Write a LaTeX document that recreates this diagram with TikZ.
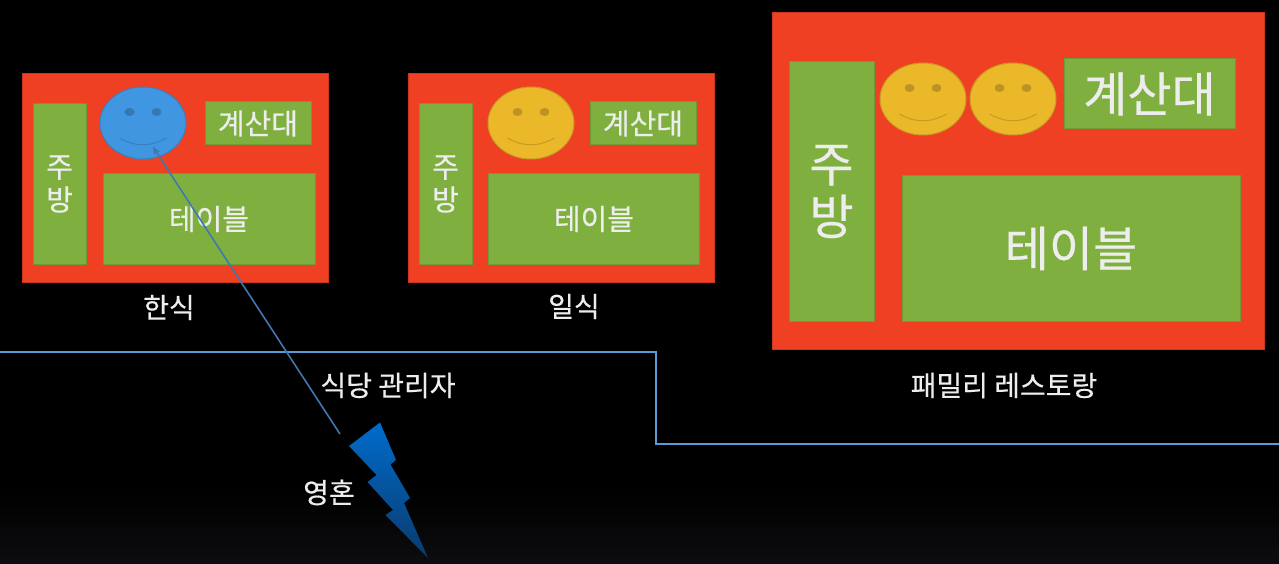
\documentclass[tikz,border=0pt]{standalone}
\usepackage{fontspec}
\setmainfont[RawFeature={embolden=0.5}]{Noto Sans CJK KR}
\usepackage{tikz}
\usetikzlibrary{positioning,arrows.meta,shapes.geometric,calc}

\definecolor{shopred}{HTML}{F04023}
\definecolor{roomgreen}{HTML}{7FB03F}
\definecolor{edgegreen}{HTML}{6E9A3A}
\definecolor{faceblue}{HTML}{4096E0}
\definecolor{edgeblue}{HTML}{3A7FBE}
\definecolor{eyeblue}{HTML}{3478B4}
\definecolor{faceyellow}{HTML}{EAB828}
\definecolor{edgeyellow}{HTML}{C99A22}
\definecolor{eyeyellow}{HTML}{BD9424}
\definecolor{wireblue}{HTML}{5B9BD5}
\definecolor{arrowblue}{HTML}{3F78AE}
\definecolor{boltblue}{HTML}{006CCB}
\definecolor{boltdark}{HTML}{0A3A6E}
\definecolor{floorgrey}{HTML}{0D0D10}

\newcommand{\sized}[1]{\fontsize{#1}{1.2\dimexpr #1pt\relax}\selectfont}
% one smiling face: name, centre, fill, outline, eye colour
\newcommand{\smiley}[6]{%
  \node[faceshape, fill=#4, draw=#5] (#1) at (#2,#3) {};
  \fill[#6] ($(#1)+(-13.5,-11)$) ellipse (5 and 4);
  \fill[#6] ($(#1)+(13.5,-11)$) ellipse (5 and 4);
  \draw[#5, line width=1pt] ($(#1)+(-23.5,15)$) .. controls ($(#1)+(-8,24)$) and ($(#1)+(8,24)$) .. ($(#1)+(23.5,15)$);
}

\tikzset{
  shopbox/.style={fill=shopred, draw=shopred!85!black, line width=.8pt, inner sep=0pt},
  roombox/.style={fill=roomgreen, draw=edgegreen, line width=1pt, inner sep=0pt, text=white!93!black, align=center},
  faceshape/.style={ellipse, minimum width=86pt, minimum height=72pt, line width=1pt, inner sep=0pt},
  caption/.style={text=white!93!black, inner sep=0pt, font=\sized{28}},
  wire/.style={wireblue, line width=1.8pt},
}

\begin{document}
\begin{tikzpicture}[x=1pt, y=-1pt]
  \useasboundingbox (0,0) rectangle (1279,564);
  \fill[black] (0,0) rectangle (1279,490);
  \shade[top color=black, bottom color=floorgrey] (0,490) rectangle (1279,564);

  % Korean restaurant
  \node[shopbox, minimum width=306pt, minimum height=209pt] (hanshop) at (175.5,177.5) {};
  \node[roombox, minimum width=53pt, minimum height=161pt, font=\sized{29}] (hankitchen) at (59.5,184) {주\\[-2pt]방};
  \node[roombox, minimum width=106pt, minimum height=43pt, font=\sized{29}] (hancounter) at (258,123.5) {계산대};
  \node[roombox, minimum width=212pt, minimum height=90pt, font=\sized{29}] (hantable) at (209,219) {테이블};
  \smiley{hanface}{143}{123}{faceblue}{edgeblue}{eyeblue}
  \node[caption] (hanlabel) at (169,307.5) {한식};

  % Japanese restaurant
  \node[shopbox, minimum width=306pt, minimum height=209pt] (japshop) at (561.5,177.5) {};
  \node[roombox, minimum width=53pt, minimum height=161pt, font=\sized{29}] (japkitchen) at (445.5,184) {주\\[-2pt]방};
  \node[roombox, minimum width=106pt, minimum height=43pt, font=\sized{29}] (japcounter) at (643,123.5) {계산대};
  \node[roombox, minimum width=211pt, minimum height=90pt, font=\sized{29}] (japtable) at (594,219) {테이블};
  \smiley{japface}{531}{123}{faceyellow}{edgeyellow}{eyeyellow}
  \node[caption] (japlabel) at (574,306.5) {일식};

  % Family restaurant
  \node[shopbox, minimum width=492pt, minimum height=337pt] (famshop) at (1018,180.5) {};
  \node[roombox, minimum width=85pt, minimum height=259pt, font=\sized{48}] (famkitchen) at (831.5,191.5) {주\\[-5pt]방};
  \node[roombox, minimum width=171pt, minimum height=70pt, font=\sized{48}] (famcounter) at (1149.5,94) {계산대};
  \node[roombox, minimum width=338pt, minimum height=145pt, font=\sized{48}] (famtable) at (1071,248.5) {테이블};
  \smiley{famfacea}{923}{99}{faceyellow}{edgeyellow}{eyeyellow}
  \smiley{famfaceb}{1013}{99}{faceyellow}{edgeyellow}{eyeyellow}
  \node[caption] (famlabel) at (1004,385.5) {패밀리 레스토랑};

  % Manager area
  \coordinate (wirestart) at (0,352);
  \coordinate (wirestep) at (656,352);
  \coordinate (wiredrop) at (656,444);
  \coordinate (wireend) at (1279,444);
  \draw[wire] (wirestart) -- (wirestep) -- (wiredrop) -- (wireend);
  \node[caption] (managerlabel) at (388,385.5) {식당 관리자};
  \node[caption] (soullabel) at (329,492.5) {영혼};

  % Soul bolt and its line to the face
  \shade[top color=boltblue, middle color=boltblue, bottom color=boltdark]
    (349,446) -- (380,422.5) -- (396,460) -- (390.5,464.5) -- (410,498) -- (404,503) -- (428,558)
    -- (385.5,515) -- (393,510) -- (367.5,482) -- (376.5,475) -- cycle;
  \coordinate (soulstart) at (340,434);
  \coordinate (soulend) at (153,147);
  \draw[arrowblue, line width=1.6pt, -{Stealth[length=8pt, width=7pt]}] (soulstart) -- (soulend);
\end{tikzpicture}
\end{document}
